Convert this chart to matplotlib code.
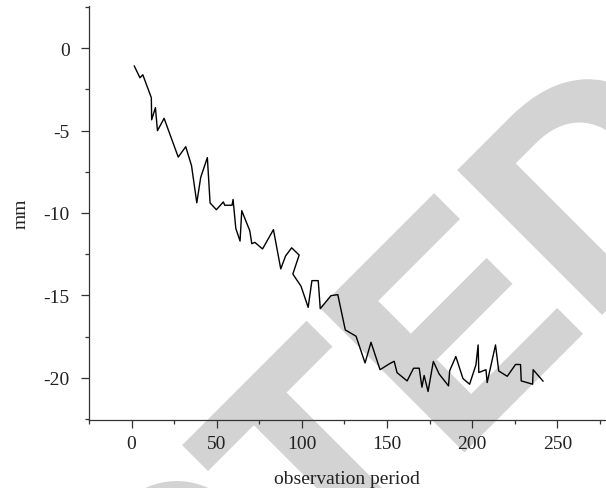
import matplotlib
matplotlib.use("Agg")
import matplotlib.pyplot as plt
import matplotlib.patheffects as pe
from matplotlib.ticker import MultipleLocator

# Data
period = [1.6, 4.9, 6.6, 11.6, 11.8, 14.0, 15.2, 19.1, 27.4, 31.8, 35.2, 38.3,
          40.6, 44.5, 46.1, 49.8, 53.9, 54.7, 59.0, 59.6, 61.2, 63.7, 64.7, 69.4,
          70.6, 72.4, 76.9, 83.3, 87.6, 90.4, 94.0, 98.4, 94.7, 99.5, 103.7, 105.9,
          109.6, 110.8, 117.1, 121.1, 125.5, 131.8, 137.1, 140.6, 145.9, 151.6,
          154.2, 155.9, 161.8, 165.6, 168.9, 170.5, 171.8, 174.1, 177.2, 180.6,
          186.1, 186.8, 190.4, 194.6, 198.5, 202.2, 203.5, 203.9, 208.1, 208.8,
          213.7, 215.6, 220.6, 225.5, 228.4, 228.8, 235.5, 235.8, 241.6]
mm = [-1.09, -1.80, -1.62, -3.01, -4.35, -3.61, -5.01, -4.26, -6.61, -5.98, -7.13, -9.38,
      -7.84, -6.64, -9.39, -9.80, -9.33, -9.53, -9.53, -9.18, -10.93, -11.70, -9.86, -11.07,
      -11.86, -11.78, -12.18, -11.01, -13.39, -12.61, -12.11, -12.55, -13.70, -14.44, -15.72, -14.10,
      -14.10, -15.80, -15.01, -14.95, -17.09, -17.47, -19.09, -17.84, -19.50, -19.13,
      -18.99, -19.68, -20.18, -19.41, -19.41, -20.56, -19.85, -20.82, -19.00, -19.76,
      -20.48, -19.56, -18.70, -20.04, -20.38, -19.21, -18.00, -19.67, -19.50, -20.28,
      -18.00, -19.58, -19.90, -19.18, -19.19, -20.18, -20.38, -19.50, -20.19]

xticks = [0, 50, 100, 150, 200, 250]
yticks = [0, -5, -10, -15, -20]

W, H = 606, 489
fig = plt.figure(figsize=(W / 100, H / 100), dpi=100)

# watermark
fig.text(737 / W, 311 / H, "RETRACTED", fontsize=210, fontfamily="Liberation Sans",
         fontweight="bold", color="#d3d3d3", rotation=45, rotation_mode="anchor",
         ha="right", va="baseline", zorder=-1,
         path_effects=[pe.withStroke(linewidth=3, foreground="#d3d3d3",
                                     joinstyle="miter")])

ax = fig.add_axes([89 / W, 68 / H, (605 - 89) / W, (421 - 7) / H])
ax.patch.set_alpha(0)
ax.plot(period, mm, color="black", lw=1.0, zorder=3)

ax.set_xlim(-25, 278)
ax.set_ylim(-22.55, 2.55)
ax.set_xticks(xticks)
ax.set_yticks(yticks)
ax.set_xticklabels([str(t) for t in xticks])
ax.set_yticklabels([str(t) for t in yticks])
ax.xaxis.set_minor_locator(MultipleLocator(25))
ax.yaxis.set_minor_locator(MultipleLocator(2.5))

for s in ["top", "right"]:
    ax.spines[s].set_visible(False)
for s in ["left", "bottom"]:
    ax.spines[s].set_color("#333333")
    ax.spines[s].set_linewidth(0.9)

ax.tick_params(which="major", direction="out", length=6, width=0.9, color="#333333",
               labelsize=14)
ax.tick_params(axis="x", which="major", pad=5)
ax.tick_params(axis="y", which="major", pad=8)
ax.tick_params(which="minor", direction="out", length=3, width=0.9, color="#333333")
for lab in ax.get_xticklabels() + ax.get_yticklabels():
    lab.set_fontfamily("Liberation Serif")
    lab.set_color("#222222")

ax.set_xlabel("observation period", fontsize=14, fontfamily="Liberation Serif",
              color="#222222", labelpad=13)
ax.set_ylabel("mm", fontsize=14, fontfamily="Liberation Serif", color="#222222",
              labelpad=10)

fig.savefig("out.png", dpi=100)
